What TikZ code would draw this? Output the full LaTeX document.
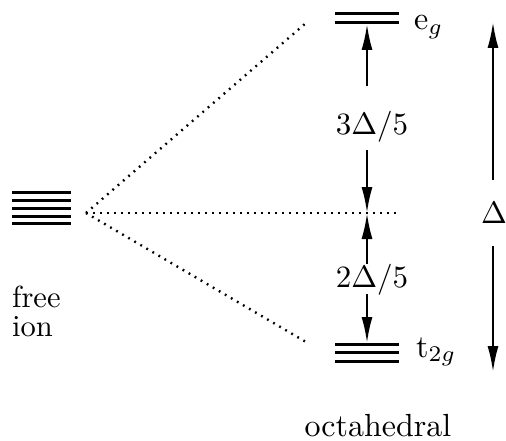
\documentclass[tikz,border=0pt]{standalone}
\usetikzlibrary{arrows.meta}
\begin{document}
\begin{tikzpicture}[x=1pt,y=-1pt,
  lvl/.style={line width=3pt},
  dots/.style={line width=2.4pt,dash pattern=on 1.8pt off 5.2pt},
  arr/.style={line width=2.2pt,-{Latex[length=26pt,width=11pt]}},
  lab/.style={inner sep=0pt}]
\useasboundingbox (0,0) rectangle (506,441);
% free ion levels
\foreach \y in {192,200,208,216,223} \draw[lvl] (12,\y) -- (71,\y);
\coordinate (src) at (86,213);
% eg levels
\draw[lvl] (335,14) -- (399,14);
\draw[lvl] (335,23) -- (399,23);
% t2g levels
\foreach \y in {344,352,361} \draw[lvl] (335,\y) -- (399,\y);
\coordinate (egtop) at (306,23);
\coordinate (mid) at (397,213);
\coordinate (t2top) at (306,342);
\draw[dots] (src) -- (egtop);
\draw[dots] (src) -- (mid);
\draw[dots] (src) -- (t2top);
% labels
\node[lab,anchor=base west] (eg) at (414,30) {\scalebox{3.2}{e$_g$}};
\node[lab,anchor=base west] (t2g) at (416,357) {\scalebox{3.2}{t$_{2g}$}};
\node[lab,anchor=base west] (free) at (12,307) {\scalebox{3.05}{free}};
\node[lab,anchor=base west] (ion) at (12,336) {\scalebox{3.05}{ion}};
\node[lab,anchor=base] (oct) at (378,436) {\scalebox{3.2}{octahedral}};
\node[lab] (three) at (372,127) {\scalebox{3.1}{$3\Delta/5$}};
\node[lab] (two) at (372,280) {\scalebox{3.1}{$2\Delta/5$}};
\node[lab] (D) at (494,213) {\scalebox{3.1}{$\Delta$}};
% arrows
\coordinate (a1) at (367,86);
\coordinate (a1e) at (367,24);
\coordinate (a2) at (367,150);
\coordinate (a2e) at (367,213);
\coordinate (a3) at (367,264);
\coordinate (a3e) at (367,213);
\coordinate (a4) at (367,294);
\coordinate (a4e) at (367,343);
\draw[arr] (a1) -- (a1e);
\draw[arr] (a2) -- (a2e);
\draw[arr] (a3) -- (a3e);
\draw[arr] (a4) -- (a4e);
\coordinate (b1) at (493,180);
\coordinate (b1e) at (493,22);
\coordinate (b2) at (493,246);
\coordinate (b2e) at (493,372);
\draw[arr] (b1) -- (b1e);
\draw[arr] (b2) -- (b2e);
\end{tikzpicture}
\end{document}
